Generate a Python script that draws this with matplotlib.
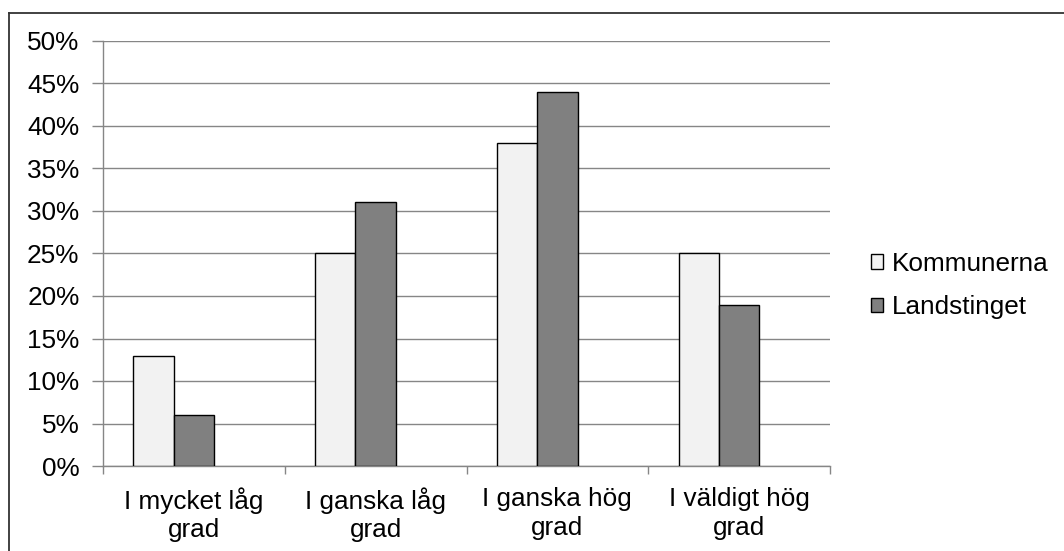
import matplotlib
matplotlib.use("Agg")
import matplotlib.pyplot as plt
from matplotlib.lines import Line2D
from matplotlib.patches import Patch
from matplotlib.ticker import FixedLocator, FuncFormatter
import numpy as np

categories = ["I mycket låg\ngrad", "I ganska låg\ngrad", "I ganska hög\ngrad", "I väldigt hög\ngrad"]
series_names = ["Kommunerna", "Landstinget"]
kommunerna = [13, 25, 38, 25]
landstinget = [6, 31, 44, 19]
y_ticks = [0, 5, 10, 15, 20, 25, 30, 35, 40, 45, 50]

plt.rcParams['font.family'] = ['Liberation Sans', 'DejaVu Sans']

W, H = 1064, 551
fig = plt.figure(figsize=(W / 100, H / 100), dpi=100)
fig.patch.set_facecolor('white')

ax = fig.add_axes([103 / W, 1 - 466 / H, (830 - 103) / W, (466 - 41) / H])

grid_col = '#868686'
light = '#F2F2F2'
dark = '#808080'

bw = 2 / 9.0
x = np.arange(len(categories))
ax.bar(x - bw, kommunerna, width=bw, align='center', color=light, edgecolor='black', linewidth=1.0, zorder=3)
ax.bar(x, landstinget, width=bw, align='center', color=dark, edgecolor='black', linewidth=1.0, zorder=3)

ax.set_xlim(-0.5, len(categories) - 0.5)
ax.set_ylim(0, 50)

ax.yaxis.set_major_locator(FixedLocator(y_ticks))
ax.yaxis.set_major_formatter(FuncFormatter(lambda v, p: f"{int(v)}%"))
ax.yaxis.grid(True, color=grid_col, linewidth=1.0, zorder=0)
ax.set_axisbelow(True)

ax.set_xticks(x)
ax.set_xticklabels(categories, linespacing=1.25)
ax.set_xticks(np.arange(-0.5, len(categories)), minor=True)
ax.tick_params(axis='x', which='major', length=0, pad=15, labelsize=18.8)
ax.tick_params(axis='x', which='minor', length=6, width=1.0, color=grid_col)
ax.tick_params(axis='y', which='major', length=8, width=1.0, color=grid_col, pad=9, labelsize=18.8)

for s in ['top', 'right']:
    ax.spines[s].set_visible(False)
for s in ['left', 'bottom']:
    ax.spines[s].set_color(grid_col)
    ax.spines[s].set_linewidth(1.0)

# outer chart border (left and top only visible)
bx = 8.5 / W
by = 1 - 12.5 / H
fig.add_artist(Line2D([bx, bx], [0, by], transform=fig.transFigure, color='#333333', linewidth=1.3))
fig.add_artist(Line2D([bx, 1.0], [by, by], transform=fig.transFigure, color='#333333', linewidth=1.3))

handles = [Patch(facecolor=light, edgecolor='black', linewidth=1.0),
           Patch(facecolor=dark, edgecolor='black', linewidth=1.0)]
fig.legend(handles, series_names, loc='center left', bbox_to_anchor=(871 / W, 1 - 285.5 / H),
           bbox_transform=fig.transFigure, frameon=False, fontsize=18.8,
           handlelength=0.46, handleheight=0.46, handletextpad=0.35, labelspacing=0.75,
           borderpad=0, borderaxespad=0)

fig.savefig("out.png", dpi=100, facecolor='white')
